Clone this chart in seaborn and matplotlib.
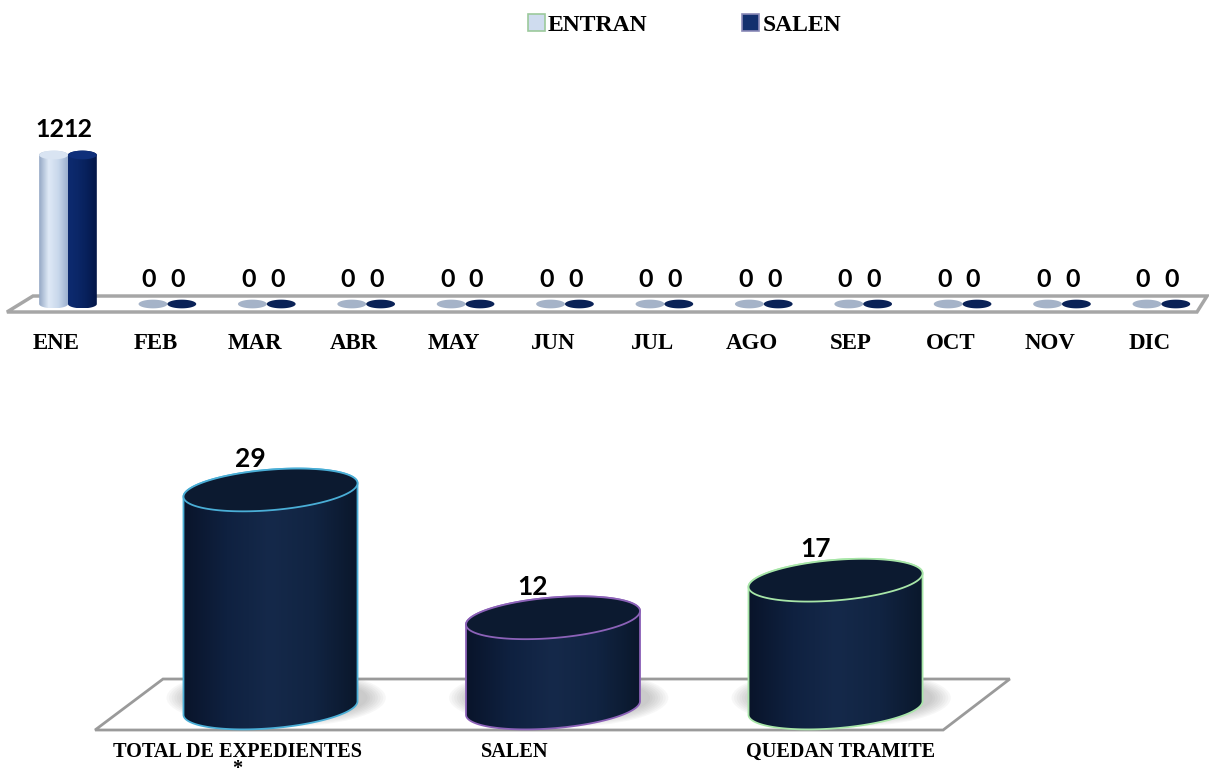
import numpy as np
import pandas as pd
import matplotlib
matplotlib.use("Agg")
import matplotlib.pyplot as plt
import seaborn as sns
from matplotlib.patches import Polygon, Patch, Ellipse
from matplotlib.colors import LinearSegmentedColormap
from matplotlib.transforms import ScaledTranslation

# --- data ---
meses = ["ENE", "FEB", "MAR", "ABR", "MAY", "JUN", "JUL", "AGO", "SEP", "OCT", "NOV", "DIC"]
entran = [12, 0, 0, 0, 0, 0, 0, 0, 0, 0, 0, 0]
salen = [12, 0, 0, 0, 0, 0, 0, 0, 0, 0, 0, 0]
series = ["ENTRAN", "SALEN"]

resumen_cat = ["TOTAL DE EXPEDIENTES\n*", "SALEN", "QUEDAN TRAMITE"]
resumen_val = [29, 12, 17]


def cylinder(ax, bar, colors, top_face, edge=None, eh=1.0, shear=0.0, lw=0.0,
             zero_face=None, shadow=False):
    """Turn a seaborn bar into a gradient cylinder."""
    x0, w, h = bar.get_x(), bar.get_width(), bar.get_height()
    cx, a, b = x0 + w / 2, w / 2, eh / 2
    bar.set_visible(False)

    def ell(cy, tt):
        xs = cx + a * np.cos(tt)
        ys = cy + b * np.sin(tt) + shear * (xs - cx) / a
        return np.column_stack([xs, ys])

    if h == 0:
        ax.add_patch(Polygon(ell(0, np.linspace(0, 2 * np.pi, 120)), closed=True,
                             fc=zero_face, ec="none", zorder=2))
        return

    if shadow:
        for k in range(8):
            ax.add_patch(Ellipse((cx + 0.02, b * 0.5), w * (1.26 - 0.03 * k), eh * (1.45 - 0.06 * k),
                                 fc="#6e6e6e", ec="none", alpha=0.05, zorder=1))

    lower = ell(0, np.linspace(np.pi, 2 * np.pi, 100))
    upper = ell(h, np.linspace(0, np.pi, 100))
    body = Polygon(np.vstack([lower, upper]), closed=True, fc="none",
                   ec=edge if edge else "none", lw=lw, zorder=2.5)
    ax.add_patch(body)
    cmap = LinearSegmentedColormap.from_list("cyl", colors)
    grad = np.linspace(0, 1, 256)[None, :]
    im = ax.imshow(grad, cmap=cmap, aspect="auto", origin="lower", zorder=2,
                   extent=[x0, x0 + w, -b - abs(shear), h + b + abs(shear)])
    im.set_clip_path(body)
    ax.add_patch(Polygon(ell(h, np.linspace(0, 2 * np.pi, 160)), closed=True, fc=top_face,
                         ec=edge if edge else "none", lw=lw, zorder=3))


sns.set_theme(style="white")
plt.rcParams["font.family"] = ["Liberation Serif", "DejaVu Serif"]
plt.rcParams["text.color"] = "black"
plt.rcParams["xtick.color"] = "black"

fig = plt.figure(figsize=(12.09, 7.78), dpi=100)
ax1 = fig.add_axes([0, 460 / 778, 1, 258 / 778])
ax2 = fig.add_axes([0, 43 / 778, 1, 335 / 778])

# --- top chart: monthly in / out ---
df = pd.DataFrame({
    "mes": meses * 2,
    "valor": entran + salen,
    "serie": [series[0]] * len(meses) + [series[1]] * len(meses),
})
sns.barplot(data=df, x="mes", y="valor", hue="serie", palette=["#c6d7ee", "#0b2460"],
            width=0.58, saturation=1, legend=False, ax=ax1)

ax1.add_patch(Polygon([(-0.614, -0.644), (11.358, -0.644), (11.459, 0.644), (-0.352, 0.644)],
                      closed=True, fc="white", ec="#a6a6a6", lw=2.5, zorder=0.5, clip_on=False))

styles = {
    "ENTRAN": dict(colors=["#93a7c4", "#dfe9f6", "#c9d8ec", "#9cb1cf"], top_face="#d9e4f2",
                   zero_face="#a5b3c8"),
    "SALEN": dict(colors=["#0d2b70", "#0b2768", "#07205a", "#031648"], top_face="#0f2f7a",
                  zero_face="#0a2257"),
}
for name, cont in zip(series, ax1.containers):
    for bar in cont:
        h = bar.get_height()
        cylinder(ax1, bar, eh=0.7, **styles[name])
        ax1.annotate(f"{int(h)}", xy=(bar.get_x() + bar.get_width() / 2, h),
                     xytext=(-4, 25), textcoords="offset pixels", ha="center", va="center",
                     fontsize=18, fontweight="bold", family=["Lato", "DejaVu Sans"], zorder=5)

ax1.set_xlim(-0.684, 11.479)
ax1.set_ylim(-1.127, 19.65)
ax1.set_xlabel("")
ax1.set_ylabel("")
ax1.set_yticks([])
ax1.tick_params(axis="x", length=0, pad=10.5, labelsize=16.5)
for lab in ax1.get_xticklabels():
    lab.set_fontweight("bold")
    lab.set_transform(lab.get_transform() + ScaledTranslation(-0.12, 0, fig.dpi_scale_trans))
for s in ax1.spines.values():
    s.set_visible(False)

fig.legend(handles=[Patch(fc="#cfdcef", ec="#9cc99c", lw=1.2),
                    Patch(fc="#13306e", ec="#8a8ab8", lw=1.2)],
           labels=series, loc="center left", bbox_to_anchor=(528 / 1209, 1 - 25 / 778),
           ncol=2, frameon=False, prop={"family": "Liberation Serif", "weight": "bold", "size": 17},
           handlelength=0.7, handleheight=0.7, handletextpad=0.15, columnspacing=4.0,
           borderpad=0, borderaxespad=0)

# --- bottom chart: summary ---
sns.barplot(x=resumen_cat, y=resumen_val, color="#112440", width=0.616, saturation=1, ax=ax2)

ax2.add_patch(Polygon([(-0.621, -2.926), (2.381, -2.926), (2.617, 3.856), (-0.3805, 3.856)],
                      closed=True, fc="white", ec="#9a9a9a", lw=2, zorder=0.5, clip_on=False))

edges = ["#4aaed6", "#8c62b8", "#a8e6a8"]
body_cols = ["#09142a", "#0f2140", "#15294a", "#112442", "#0a172b"]
for bar, ec in zip(ax2.patches, edges):
    h = bar.get_height()
    cylinder(ax2, bar, colors=body_cols, top_face="#0c1a30", edge=ec, eh=5.4,
             shear=0.9, lw=1.3, shadow=True)
    ax2.annotate(f"{int(h)}", xy=(bar.get_x() + bar.get_width() / 2, h),
                 xytext=(-20, 31), textcoords="offset pixels", ha="center", va="center",
                 fontsize=19, fontweight="bold", family=["Lato", "DejaVu Sans"], zorder=5)

ax2.set_xlim(-0.9575, 3.322)
ax2.set_ylim(-3.59, 40.96)
ax2.set_yticks([])
ax2.tick_params(axis="x", length=0, pad=5, labelsize=14.6)
for lab, dx in zip(ax2.get_xticklabels(), [-33, -38, 5]):
    lab.set_fontweight("bold")
    lab.set_linespacing(0.78)
    lab.set_transform(lab.get_transform() + ScaledTranslation(dx / 100, 0, fig.dpi_scale_trans))
for s in ax2.spines.values():
    s.set_visible(False)

fig.savefig("out.png", dpi=100)
